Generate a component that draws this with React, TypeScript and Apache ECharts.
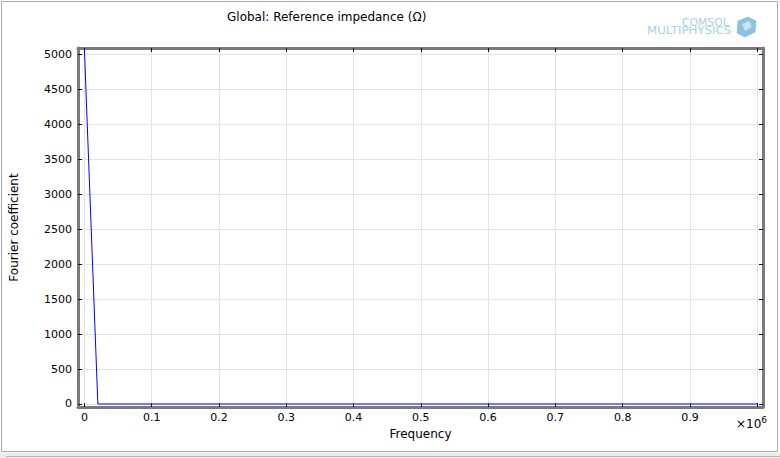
import React, { useEffect, useRef } from "react";
import * as echarts from "echarts";

const freq = [0, 20000, 1000000];
const coeff = [5080, 0, 0];
const xTicks = [0, 100000, 200000, 300000, 400000, 500000, 600000, 700000, 800000, 900000, 1000000];
const yTicks = [0, 500, 1000, 1500, 2000, 2500, 3000, 3500, 4000, 4500, 5000];
const xLabelTicks = [0, 100000, 200000, 300000, 400000, 500000, 600000, 700000, 800000, 900000];

const titleText = "Global: Reference impedance (Ω)";
const xName = "Frequency";
const yName = "Fourier coefficient";

export default function App() {
  const ref = useRef<HTMLDivElement>(null);
  useEffect(() => {
    document.body.style.margin = "0";
    const chart = echarts.init(ref.current!, null, { renderer: "svg" });
    const font = "DejaVu Sans";
    const axisLine = { show: true, onZero: false, lineStyle: { color: "#7a7a7a", width: 3 } };
    const tick = (vals: number[]) => ({
      show: true,
      inside: true,
      length: 4,
      customValues: vals,
      lineStyle: { color: "#111", width: 1 },
    });
    chart.setOption({
      animation: false,
      backgroundColor: "#fff",
      title: {
        text: titleText,
        left: 222,
        top: 6,
        textStyle: { fontFamily: font, fontSize: 12, fontWeight: "normal", color: "#000" },
      },
      grid: { left: 77, top: 48, right: 17, bottom: 51, containLabel: false },
      xAxis: [
        {
          type: "value",
          min: -9500,
          max: 1008600,
          position: "bottom",
          axisLine,
          axisTick: tick(xTicks),
          axisLabel: {
            customValues: xLabelTicks,
            formatter: (v: number) => (v === 0 ? "0" : String(+(v / 1e6).toFixed(1))),
            fontFamily: font,
            fontSize: 11,
            color: "#000",
            margin: 5,
          },
          splitLine: { show: true, lineStyle: { color: "#e3e3e3", width: 1 } },
          name: xName,
          nameLocation: "middle",
          nameGap: 20,
          nameTextStyle: { fontFamily: font, fontSize: 12, color: "#000", verticalAlign: "top" },
        },
        {
          type: "value",
          min: -9500,
          max: 1008600,
          position: "top",
          axisLine,
          axisTick: tick(xTicks),
          axisLabel: { show: false },
          splitLine: { show: false },
        },
      ],
      yAxis: [
        {
          type: "value",
          min: -43,
          max: 5093,
          position: "left",
          axisLine,
          axisTick: tick(yTicks),
          axisLabel: {
            customValues: yTicks,
            formatter: (v: number) => String(v),
            fontFamily: font,
            fontSize: 11,
            color: "#000",
            margin: 6,
          },
          splitLine: { show: true, lineStyle: { color: "#e3e3e3", width: 1 } },
          name: yName,
          nameLocation: "middle",
          nameGap: 58,
          nameTextStyle: { fontFamily: font, fontSize: 12, color: "#000" },
        },
        {
          type: "value",
          min: -43,
          max: 5093,
          position: "right",
          axisLine,
          axisTick: tick(yTicks),
          axisLabel: { show: false },
          splitLine: { show: false },
        },
      ],
      series: [
        {
          type: "line",
          data: freq.map((f, i) => [f, coeff[i]]),
          xAxisIndex: 0,
          yAxisIndex: 0,
          showSymbol: false,
          symbol: "none",
          clip: true,
          lineStyle: { color: "#0000ff", width: 1 },
        },
      ],
      graphic: [
        {
          type: "rect",
          shape: { x: 1.5, y: 1.5, width: 776, height: 450 },
          style: { fill: "none", stroke: "#a9a9a9", lineWidth: 1 },
          silent: true,
        },
        {
          type: "rect",
          shape: { x: 0, y: 452.5, width: 780, height: 6 },
          style: { fill: "#ececec", stroke: "none" },
          silent: true,
        },
        {
          type: "line",
          shape: { x1: 6, y1: 456.5, x2: 780, y2: 456.5 },
          style: { stroke: "#b5b5b5", lineWidth: 1 },
          silent: true,
        },
        {
          type: "text",
          x: 736,
          y: 424,
          style: {
            text: "×10{s|6}",
            rich: { s: { fontSize: 9, verticalAlign: "top", padding: [0, 0, 9, 0], fontFamily: font } },
            fontFamily: font,
            fontSize: 12,
            fill: "#000",
            verticalAlign: "middle",
          },
        },
        {
          type: "text",
          x: 682,
          y: 22,
          scaleX: 1.08,
          style: {
            text: "COMSOL",
            fontFamily: font,
            fontSize: 10,
            fill: "#a9cfe6",
            align: "left",
            verticalAlign: "middle",
          },
        },
        {
          type: "text",
          x: 647,
          y: 31,
          scaleX: 1.18,
          style: {
            text: "MULTIPHYSICS",
            fontFamily: font,
            fontSize: 10,
            fill: "#a9cfe6",
            align: "left",
            verticalAlign: "middle",
          },
        },
        {
          type: "polygon",
          shape: { points: [[738, 21], [748, 17], [756, 21], [755, 32], [745, 37], [737, 33]] },
          style: { fill: "#8dc3e1", stroke: "#6fb2d8", lineWidth: 0.5 },
        },
        {
          type: "polygon",
          shape: { points: [[742, 24], [749, 21], [752, 27], [745, 31]] },
          style: { fill: "#c8e3f2" },
        },
      ],
    });
    return () => chart.dispose();
  }, []);
  return <div ref={ref} style={{ width: 780, height: 458 }} />;
}
